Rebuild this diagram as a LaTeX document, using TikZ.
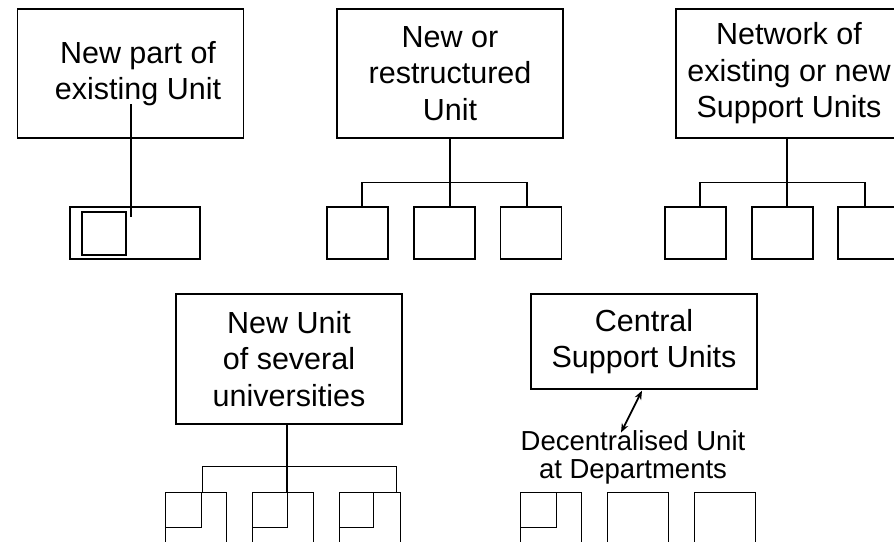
\documentclass[tikz,border=0pt]{standalone}
\usepackage{fontspec}
\setmainfont{Liberation Sans}
\usetikzlibrary{calc,arrows.meta}
\tikzset{>={Stealth[length=9pt,width=7pt]}}
\tikzset{
  unit/.style={draw, minimum width=226pt, minimum height=129pt, inner sep=0pt,
    align=center, font=\fontsize{30.5}{36.5}\selectfont},
  sub/.style={draw, minimum width=61pt, minimum height=52pt, inner sep=0pt},
  low/.style={sub, minimum height=100pt, anchor=north west},
  inner/.style={draw, minimum width=#1, minimum height=35pt, inner sep=0pt, anchor=north west},
}

\begin{document}
\begin{tikzpicture}[x=1pt, y=-1pt, line width=1.3pt]
  \useasboundingbox (0,0) rectangle (894,541);
  \clip (0,0) rectangle (894,541);
  % new part of existing unit
  \node[unit] (part) at (130.5,73.5) {\hspace*{15pt}New part of\\\hspace*{15pt}existing Unit};
  \node[sub, minimum width=130pt] (old) at (135,233) {};
  \node[draw, minimum width=44pt, minimum height=43pt, inner sep=0pt] (newpart) at (104,233.5) {};
  \coordinate (p1) at (131,104);
  \coordinate (p2) at (131,217);
  \draw (p1) -- (p2);
  % new or restructured unit
  \node[unit] (rs) at (450,73.5) {New or\\restructured\\Unit};
  \node[sub] (rs1) at (357.5,233) {};
  \node[sub] (rs2) at (444.5,233) {};
  \node[sub] (rs3) at (531,233) {};
  \draw (rs.south) -- ++(0,44) coordinate (b2);
  \draw ([xshift=4.5pt]rs1.north) |- (b2) -| ([xshift=-4pt]rs3.north);
  \draw (b2) -- (b2 |- rs2.north);
  % network of support units
  \node[unit] (net) at (789,73.5) {Network of\\existing or new\\Support Units};
  \node[sub] (net1) at (695.5,233) {};
  \node[sub] (net2) at (782.5,233) {};
  \node[sub] (net3) at (868.5,233) {};
  \draw ([xshift=-2pt]net.south) -- ++(0,44) coordinate (b3);
  \draw ([xshift=4.5pt]net1.north) |- (b3) -| ([xshift=-3.5pt]net3.north);
  \draw (b3) -- (b3 |- net2.north);
  % new unit of several universities
  \node[unit, minimum height=130pt] (uni) at (289,359) {New Unit\\of several\\universities};
  \node[low] (u1) at (165,492) {};
  \node[low] (u2) at (252,492) {};
  \node[low] (u3) at (339,492) {};
  \node[inner=36pt] (i1) at (u1.north west) {};
  \node[inner=35pt] (i2) at (u2.north west) {};
  \node[inner=34pt] (i3) at (u3.north west) {};
  \draw ([xshift=-2pt]uni.south) -- ++(0,42) coordinate (b4);
  \draw (i1.north east) |- (b4) -| ([xshift=26pt]u3.north);
  \draw (b4) -- (b4 |- i2.north);
  % central and decentralised support units
  \node[unit, minimum height=95pt] (csu) at (644,341.5) {Central\\Support Units};
  \node[align=center, inner sep=0pt, font=\fontsize{27.5}{28}\selectfont] (dec) at (633,457)
    {Decentralised Unit\\at Departments};
  \draw[<->, line width=1.8pt] ([xshift=-2pt,yshift=-1pt]csu.south) -- ($(dec.north)+(-12,3)$);
  \node[low] (d1) at (520,492) {};
  \node[low] (d2) at (607,492) {};
  \node[low] (d3) at (694,492) {};
  \node[inner=36pt] (j1) at (d1.north west) {};
\end{tikzpicture}
\end{document}
